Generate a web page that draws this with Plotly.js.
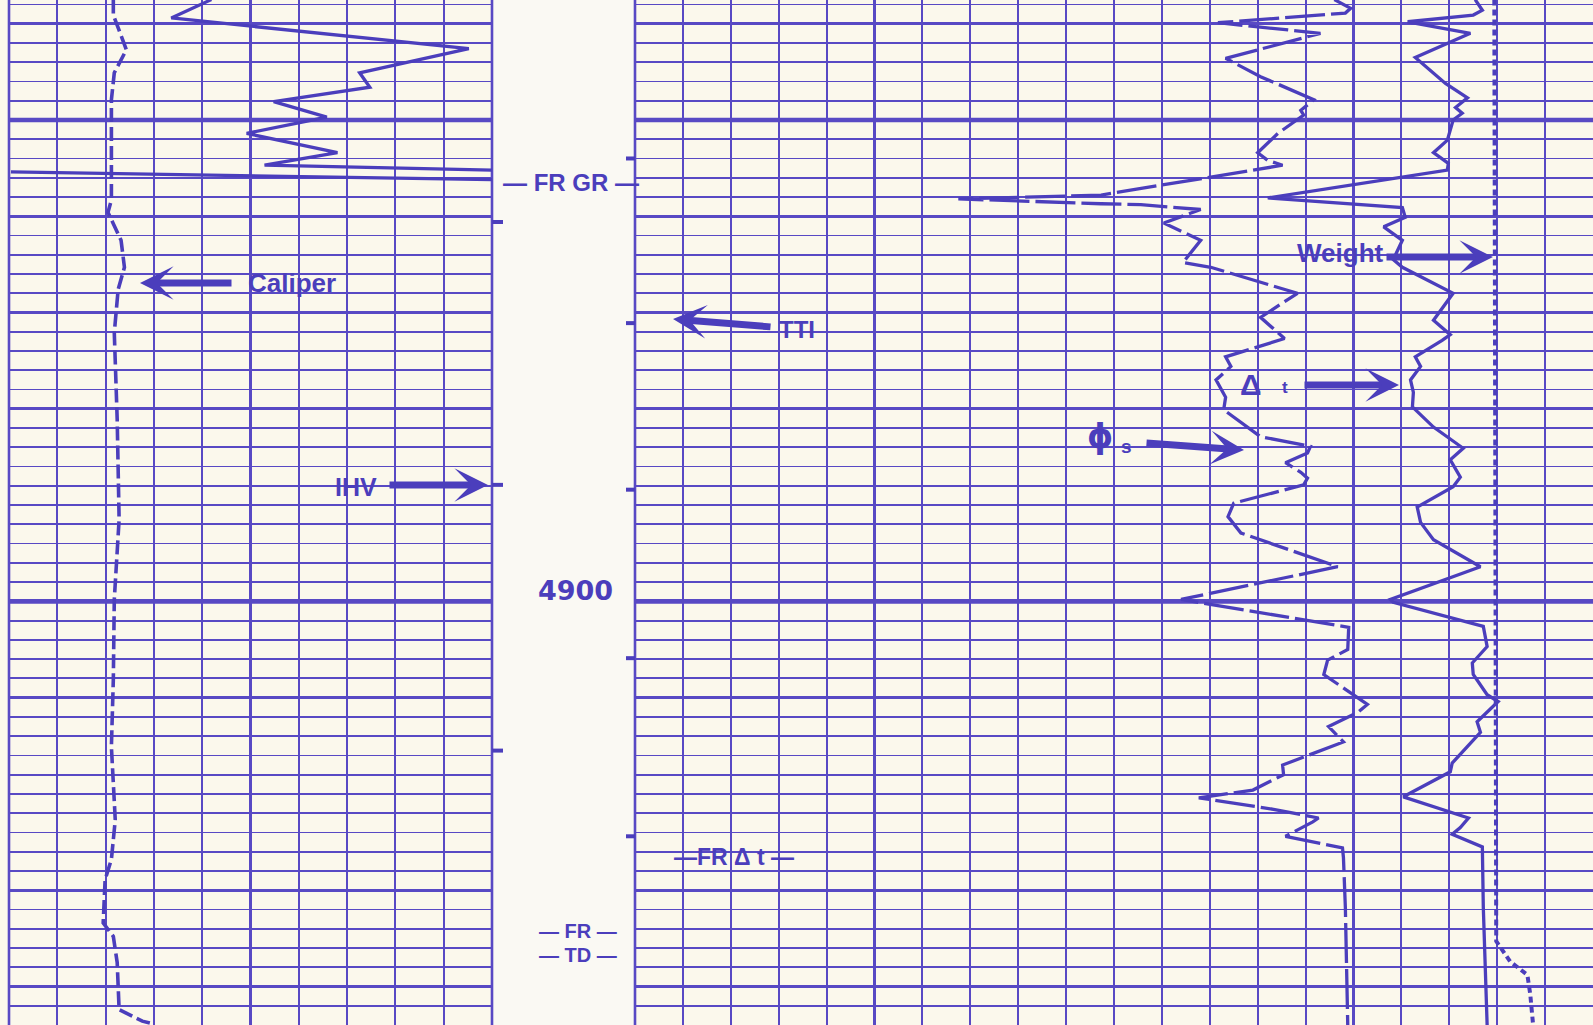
<!DOCTYPE html>
<html>
<head>
<meta charset="utf-8">
<script src="https://cdn.plot.ly/plotly-3.0.1.min.js"></script>
<style>
  html, body { margin: 0; padding: 0; background: #FBF8EC; }
  #chart { width: 1593px; height: 1025px; }
</style>
</head>
<body>
<div id="chart"></div>
<script>
// Depth in feet; curve values in chart divisions of their track
// Track 1 (left): 0-10 divisions ; Tracks 2+3 (right): 0-20 divisions

const depthGR = [4837.5, 4839.4, 4842.6, 4845.1, 4846.6, 4848.1, 4849.7, 4851.4, 4853.4, 4854.7, 4855.2, null, 4855.4, 4856.2];
const gammaRay = [4.19, 3.36, 9.52, 7.26, 7.47, 5.48, 6.58, 4.92, 6.80, 5.29, 10.0, null, 0.04, 10.0];

const depthCaliper = [4837.5, 4839.1, 4842.7, 4845.1, 4847.9, 4858.3, 4859.6, 4862.5, 4865.3, 4867.6, 4872.1, 4881.1, 4891.5, 4899.8, 4908.1, 4915.1, 4922.7, 4926.8, 4928.9, 4933.4, 4934.8, 4937.5, 4942.4, 4943.6, 4943.9];
const caliper = [2.16, 2.16, 2.43, 2.18, 2.12, 2.12, 2.05, 2.32, 2.39, 2.26, 2.18, 2.24, 2.28, 2.18, 2.16, 2.12, 2.20, 2.12, 1.99, 1.95, 2.16, 2.24, 2.28, 2.76, 3.0];

const depthPhiS = [4837.5, 4838.4, 4838.9, 4839.9, 4841.0, 4843.6, 4845.5, 4847.9, 4849.0, 4849.5, 4851.4, 4853.4, 4854.2, 4854.7, 4857.8, 4858.2, 4858.7, 4858.8, 4859.3, 4860.7, 4862.5, 4864.8, 4865.3, 4868.0, 4870.5, 4872.7, 4874.6, 4875.6, 4877.0, 4878.8, 4880.1, 4882.9, 4883.9, 4884.6, 4885.6, 4886.6, 4887.2, 4887.9, 4889.8, 4891.2, 4892.9, 4896.4, 4899.8, 4902.7, 4905.0, 4906.1, 4907.6, 4909.7, 4910.7, 4911.5, 4913.0, 4914.6, 4917.0, 4918.0, 4919.6, 4920.4, 4921.6, 4922.5, 4922.9, 4924.4, 4925.6, 4926.6, 4931.8, 4944.0];
const phiS = [14.60, 14.94, 14.83, 12.17, 14.31, 12.33, 13.06, 14.17, 13.90, 13.96, 13.42, 13.00, 13.21, 13.52, 9.73, 6.75, 9.73, 10.56, 11.81, 11.04, 11.81, 11.44, 12.02, 13.83, 13.06, 13.56, 12.33, 12.44, 12.13, 12.33, 12.29, 13.06, 14.10, 14.04, 13.58, 13.90, 14.04, 13.96, 12.50, 12.38, 12.65, 14.67, 11.40, 14.90, 14.88, 14.46, 14.38, 15.00, 15.29, 15.10, 14.48, 14.79, 13.52, 13.54, 12.90, 11.77, 13.33, 14.27, 14.15, 13.58, 14.77, 14.79, 14.83, 14.88];

const depthDeltaT = [4837.5, 4838.6, 4839.1, 4839.8, 4841.0, 4843.5, 4846.2, 4847.7, 4848.7, 4849.3, 4850.0, 4852.1, 4853.4, 4854.5, 4855.2, 4858.1, 4859.1, 4860.1, 4861.1, 4862.5, 4864.5, 4865.3, 4868.0, 4870.8, 4872.3, 4872.9, 4874.6, 4875.6, 4877.0, 4878.3, 4879.8, 4881.9, 4884.1, 4885.3, 4887.1, 4888.1, 4890.2, 4891.8, 4893.6, 4896.4, 4899.8, 4900.1, 4902.6, 4904.7, 4906.4, 4907.6, 4909.7, 4910.4, 4912.5, 4913.6, 4916.8, 4917.7, 4920.3, 4922.5, 4923.5, 4924.2, 4925.5, 4931.8, 4944.0];
const deltaT = [17.54, 17.69, 17.50, 16.13, 17.44, 16.29, 16.92, 17.38, 17.13, 17.27, 17.08, 16.96, 16.67, 16.98, 16.96, 13.21, 16.02, 16.08, 15.63, 16.02, 15.83, 16.02, 17.08, 16.67, 17.02, 16.85, 16.29, 16.40, 16.19, 16.25, 16.23, 16.67, 17.29, 17.02, 17.23, 17.08, 16.33, 16.40, 16.67, 17.65, 15.77, 15.83, 17.71, 17.79, 17.48, 17.50, 17.79, 18.02, 17.58, 17.65, 17.06, 17.02, 16.04, 17.40, 17.23, 17.06, 17.69, 17.71, 17.79];

const depthWeight = [4837.5, 4900.0, 4935.3, 4937.4, 4938.8, 4940.8, 4944.0];
const weight = [17.94, 17.96, 17.98, 18.27, 18.63, 18.69, 18.75];

const depthTop = 4837.54;
const depthBottom = 4944.0;
const heavyDepths = [4850, 4900];
const rightTicks = [4854.0, 4871.1, 4888.4, 4905.9, 4924.4];
const leftTicks = [4860.6, 4887.9, 4915.5];

// ---------------- STYLE ----------------
const W = 1593, H = 1025;
const ink = '#4B3EBC';
const grid = '#5849C4';
const paper = '#FBF8EC';
const px = v => v / W;
const py = v => 1 - v / H;
const T1 = [9, 492];      // track 1 pixel span
const T23 = [635, 1593];  // tracks 2-3 pixel span

const traces = [
  { x: gammaRay, y: depthGR, xaxis: 'x', yaxis: 'y', mode: 'lines', connectgaps: false,
    line: { color: ink, width: 3.3 }, name: 'GR' },
  { x: caliper, y: depthCaliper, xaxis: 'x', yaxis: 'y', mode: 'lines',
    line: { color: ink, width: 3.6, dash: '14px,5px' }, name: 'Caliper' },
  { x: phiS, y: depthPhiS, xaxis: 'x2', yaxis: 'y', mode: 'lines',
    line: { color: ink, width: 3.3, dash: '40px,6px' }, name: 'phi_s' },
  { x: deltaT, y: depthDeltaT, xaxis: 'x2', yaxis: 'y', mode: 'lines',
    line: { color: ink, width: 3.3 }, name: 'Delta t' },
  { x: weight, y: depthWeight, xaxis: 'x2', yaxis: 'y', mode: 'lines',
    line: { color: ink, width: 4, dash: '6px,4px' }, name: 'Weight' }
];

const xCommon = {
  showticklabels: false, ticks: '', zeroline: false, showline: false,
  showgrid: true, gridcolor: grid, gridwidth: 3.2, tick0: 5, dtick: 10,
  minor: { showgrid: true, tick0: 0, dtick: 1, gridcolor: grid, gridwidth: 2 },
  fixedrange: true
};

const shapes = [];
// depth column background
shapes.push({ type: 'rect', xref: 'paper', yref: 'paper', x0: px(T1[1]), x1: px(T23[0]), y0: 0, y1: 1,
  fillcolor: '#FAF9F3', line: { width: 0 }, layer: 'below' });
// heavy 50-ft lines in both tracks
heavyDepths.forEach(d => {
  ['x domain', 'x2 domain'].forEach(xr => {
    shapes.push({ type: 'line', xref: xr, yref: 'y', x0: 0, x1: 1, y0: d, y1: d,
      line: { color: grid, width: 4.6 }, layer: 'below' });
  });
});
// track borders
[T1[0], T1[1], T23[0]].forEach(xp => {
  shapes.push({ type: 'line', xref: 'paper', yref: 'paper', x0: px(xp), x1: px(xp), y0: 0, y1: 1,
    line: { color: grid, width: 2.6 }, layer: 'below' });
});
// depth column timing ticks
rightTicks.forEach(d => shapes.push({ type: 'line', xref: 'paper', yref: 'y',
  x0: px(T23[0] - 9), x1: px(T23[0]), y0: d, y1: d, line: { color: ink, width: 4 } }));
leftTicks.forEach(d => shapes.push({ type: 'line', xref: 'paper', yref: 'y',
  x0: px(T1[1]), x1: px(T1[1] + 11), y0: d, y1: d, line: { color: ink, width: 4 } }));

const boldFont = (s) => ({ family: 'Liberation Sans, Arial, sans-serif', size: s, color: ink, weight: 700 });
const label = (text, x, y, size, fam) => ({
  text, xref: 'paper', yref: 'paper', x: px(x), y: py(y), showarrow: false,
  xanchor: 'center', yanchor: 'middle', borderpad: 0,
  font: fam ? { family: fam, size, color: ink, weight: 700 } : boldFont(size)
});
const arrow = (tipX, tipY, tailX, tailY) => ({
  text: '', xref: 'paper', yref: 'paper', x: px(tipX), y: py(tipY),
  axref: 'pixel', ayref: 'pixel', ax: tailX - tipX, ay: tailY - tipY,
  showarrow: true, arrowhead: 3, arrowsize: 0.8, arrowwidth: 7, arrowcolor: ink
});

const annotations = [
  label('Caliper', 292, 283, 26),
  arrow(140, 283, 233, 283),
  label('IHV', 356, 487, 25),
  arrow(488, 485, 388, 485),
  label('TTI', 797, 329, 24),
  arrow(673, 319, 772, 327),
  label('Weight', 1340, 253, 26),
  arrow(1493, 257, 1385, 257),
  label('Δ', 1251, 384, 30),
  label('t', 1285, 387, 17),
  arrow(1399, 385, 1303, 385),
  label('ϕ', 1100, 437, 33, 'DejaVu Sans, sans-serif'),
  label('s', 1126, 447, 19),
  arrow(1244, 450, 1145, 443),
  label('— FR GR —', 571, 183, 24),
  label('4900', 575, 590, 27, 'DejaVu Sans, sans-serif'),
  label('—FR Δ t —', 734, 857, 23),
  label('— FR —', 578, 931, 20),
  label('— TD —', 578, 955, 20)
];

const layout = {
  width: W, height: H,
  margin: { l: 0, r: 0, t: 0, b: 0, pad: 0 },
  paper_bgcolor: paper,
  plot_bgcolor: 'rgba(0,0,0,0)',
  showlegend: false,
  xaxis: Object.assign({}, xCommon, { domain: [px(T1[0]), px(T1[1])], range: [0, 10], anchor: 'y' }),
  xaxis2: Object.assign({}, xCommon, { domain: [px(T23[0]), px(T23[1])], range: [0, 20], anchor: 'y' }),
  yaxis: {
    range: [depthBottom, depthTop], autorange: false, domain: [0, 1],
    showticklabels: false, ticks: '', zeroline: false, showline: false,
    showgrid: true, gridcolor: grid, gridwidth: 2.8, tick0: 4850, dtick: 10,
    minor: { showgrid: true, tick0: 4850, dtick: 2, gridcolor: grid, gridwidth: 1.8 },
    fixedrange: true
  },
  shapes, annotations
};

Plotly.newPlot('chart', traces, layout, { staticPlot: true, displayModeBar: false });
</script>
</body>
</html>
